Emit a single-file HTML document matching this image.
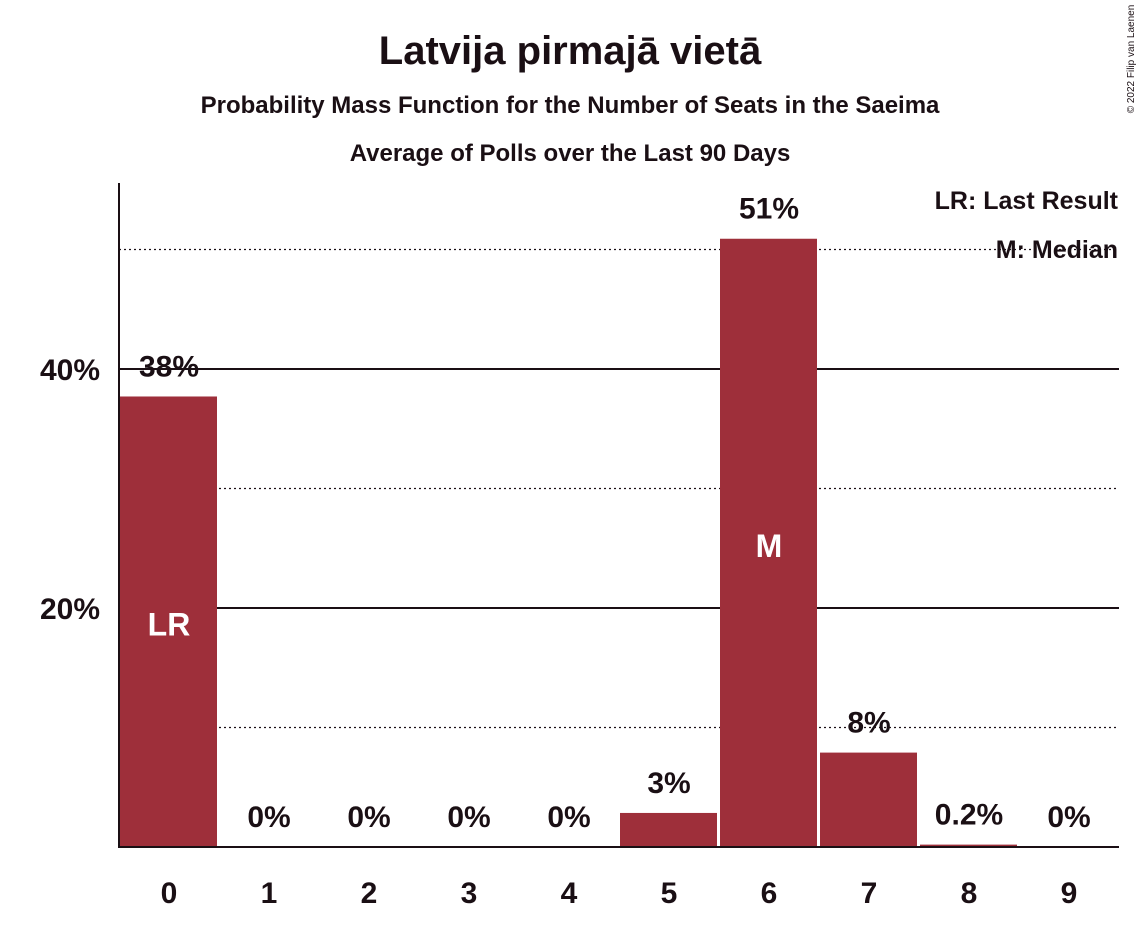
<!DOCTYPE html>
<html><head><meta charset="utf-8"><style>
body{margin:0;background:#fff;}
svg text{font-family:"Liberation Sans",sans-serif;fill:#1a0f14;}
</style></head><body>
<svg width="1139" height="924" id="c">
<text x="570" y="64" text-anchor="middle" font-size="40" font-weight="bold">Latvija pirmajā vietā</text>
<text x="570" y="113" text-anchor="middle" font-size="24" font-weight="bold">Probability Mass Function for the Number of Seats in the Saeima</text>
<text x="570" y="161" text-anchor="middle" font-size="24" font-weight="bold">Average of Polls over the Last 90 Days</text>
<text x="1134" y="59" font-size="10" transform="rotate(-90 1134 59)" text-anchor="middle">© 2022 Filip van Laenen</text>
<g id="grid"></g><g id="bars"></g>
<line x1="119" y1="183" x2="119" y2="848" stroke="#1a0f14" stroke-width="2"/>
<line x1="118" y1="847" x2="1119" y2="847" stroke="#1a0f14" stroke-width="2"/>
<text x="1118" y="209" text-anchor="end" font-size="25" font-weight="bold">LR: Last Result</text>
<text x="1118" y="258" text-anchor="end" font-size="25" font-weight="bold">M: Median</text>
</svg>
<script>
const categories=[0,1,2,3,4,5,6,7,8,9];
const values=[37.7,0,0,0,0,2.85,50.9,7.9,0.2,0];
const valueLabels=["38%","0%","0%","0%","0%","3%","51%","8%","0.2%","0%"];
const markers=["LR","","","","","","M","","",""];
const yTicks=[20,40];
const dotTicks=[10,30,50];
const ns="http://www.w3.org/2000/svg";
const y=v=>847-v*11.95, x=i=>119+i*100;
function mk(t,a,p){const e=document.createElementNS(ns,t);for(const k in a)e.setAttribute(k,a[k]);p.appendChild(e);return e;}
const g=document.getElementById('grid'),b=document.getElementById('bars');
dotTicks.forEach(v=>{const l=mk('line',{x1:119,x2:1119,y1:y(v),y2:y(v),stroke:'#1a0f14','stroke-width':1.2,'stroke-dasharray':'2,3'},g);

});
yTicks.forEach(v=>{const l=mk('line',{x1:119,x2:1119,y1:y(v),y2:y(v),stroke:'#1a0f14','stroke-width':2},g);


const t=mk('text',{x:100,y:y(v)+11,'text-anchor':'end','font-size':30,'font-weight':'bold'},g);t.textContent=v+'%';

});
categories.forEach((c,i)=>{
 if(values[i]>0){const r=mk('rect',{x:x(i)+1,y:y(values[i]),width:97,height:847-y(values[i]),fill:'#9e2f3a'},b);
 
 }
 const t=mk('text',{x:x(i)+50,y:y(values[i])-20,'text-anchor':'middle','font-size':30,'font-weight':'bold'},b);t.textContent=valueLabels[i];
 
 
 const xt=mk('text',{x:x(i)+50,y:903,'text-anchor':'middle','font-size':30,'font-weight':'bold'},b);xt.textContent=c;
 
 
 if(markers[i]){const m=mk('text',{x:x(i)+50,y:(y(values[i])+847)/2+14,'text-anchor':'middle','font-size':32,'font-weight':'bold',fill:'#fff'},b);m.style.fill='#fff';m.textContent=markers[i];
 
 }
});
</script>
</body></html>
